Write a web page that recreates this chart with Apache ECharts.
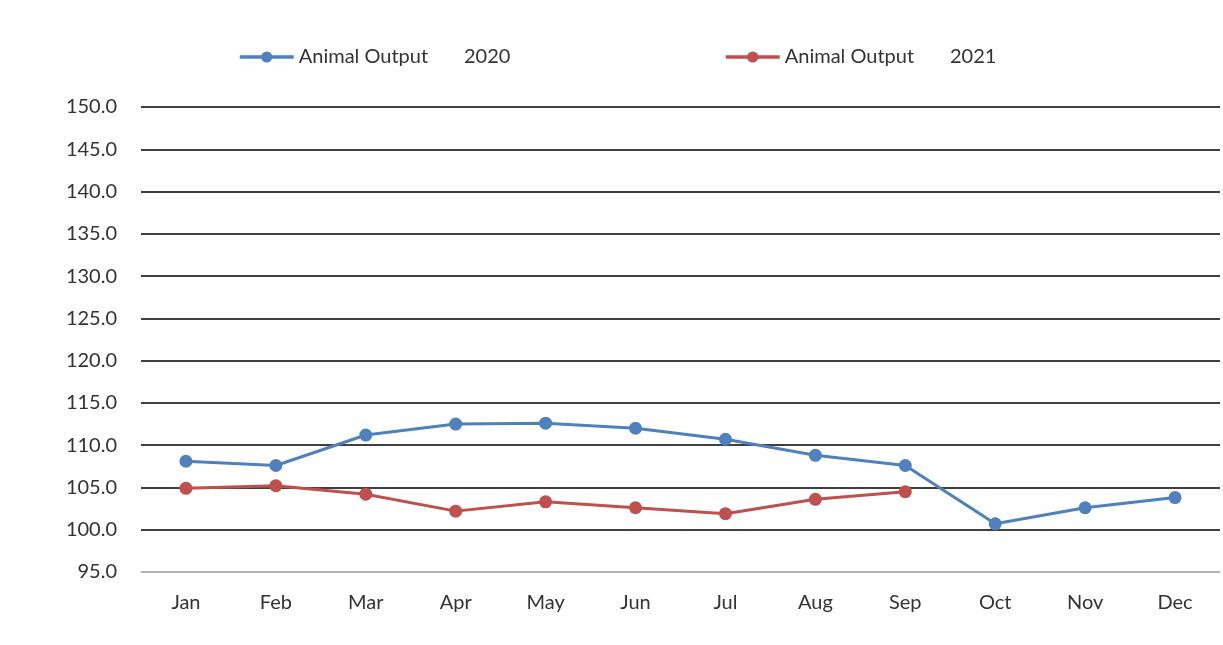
<!DOCTYPE html>
<html>
<head>
<meta charset="utf-8">
<script src="https://cdn.jsdelivr.net/npm/echarts@6/dist/echarts.min.js"></script>
<style>
html,body{margin:0;padding:0;background:#ffffff;}
#chart{width:1223px;height:645px;}
</style>
</head>
<body>
<div id="chart"></div>
<script>
const categories = ['Jan','Feb','Mar','Apr','May','Jun','Jul','Aug','Sep','Oct','Nov','Dec'];
const series2020 = [108.1,107.6,111.2,112.5,112.6,112.0,110.7,108.8,107.6,100.7,102.6,103.8];
const series2021 = [104.9,105.2,104.2,102.2,103.3,102.6,101.9,103.6,104.5];
const name2020 = 'Animal Output       2020';
const name2021 = 'Animal Output       2021';

const FONT = 'Lato, "Open Sans", sans-serif';
const legendText = {fontFamily: FONT, fontSize: 20, color: '#333333', letterSpacing: 0.8};
const chart = echarts.init(document.getElementById('chart'));
chart.setOption({
  backgroundColor: '#ffffff',
  animation: false,
  legend: [
    {
      data: [name2020], left: 238, top: 47, padding: 0, itemWidth: 54, itemHeight: 14, itemGap: 6,
      lineStyle: {width: 3.5}, textStyle: legendText
    },
    {
      data: [name2021], left: 724, top: 47, padding: 0, itemWidth: 54, itemHeight: 14, itemGap: 6,
      lineStyle: {width: 3.5}, textStyle: legendText
    }
  ],
  grid: {left: 141, right: 3, top: 107, bottom: 73, containLabel: false},
  xAxis: {
    type: 'category',
    data: categories,
    boundaryGap: true,
    axisLine: {show: true, lineStyle: {color: '#d9d9d9', width: 1.5}},
    axisTick: {show: false},
    axisLabel: {fontFamily: FONT, fontSize: 20, color: '#333333', margin: 21}
  },
  yAxis: {
    type: 'value',
    min: 95, max: 150, interval: 5,
    axisLine: {show: false},
    axisTick: {show: false},
    splitLine: {show: true, lineStyle: {color: '#000000', width: 1.5}},
    axisLabel: {
      fontFamily: FONT, fontSize: 20, color: '#333333', margin: 24,
      formatter: v => v.toFixed(1)
    }
  },
  series: [
    {
      name: name2020, type: 'line', data: series2020,
      symbol: 'circle', symbolSize: 13,
      lineStyle: {color: '#4F81BD', width: 3},
      itemStyle: {color: '#4F81BD'}
    },
    {
      name: name2021, type: 'line', data: series2021,
      symbol: 'circle', symbolSize: 13,
      lineStyle: {color: '#C0504D', width: 3},
      itemStyle: {color: '#C0504D'}
    }
  ]
});
</script>
</body>
</html>
